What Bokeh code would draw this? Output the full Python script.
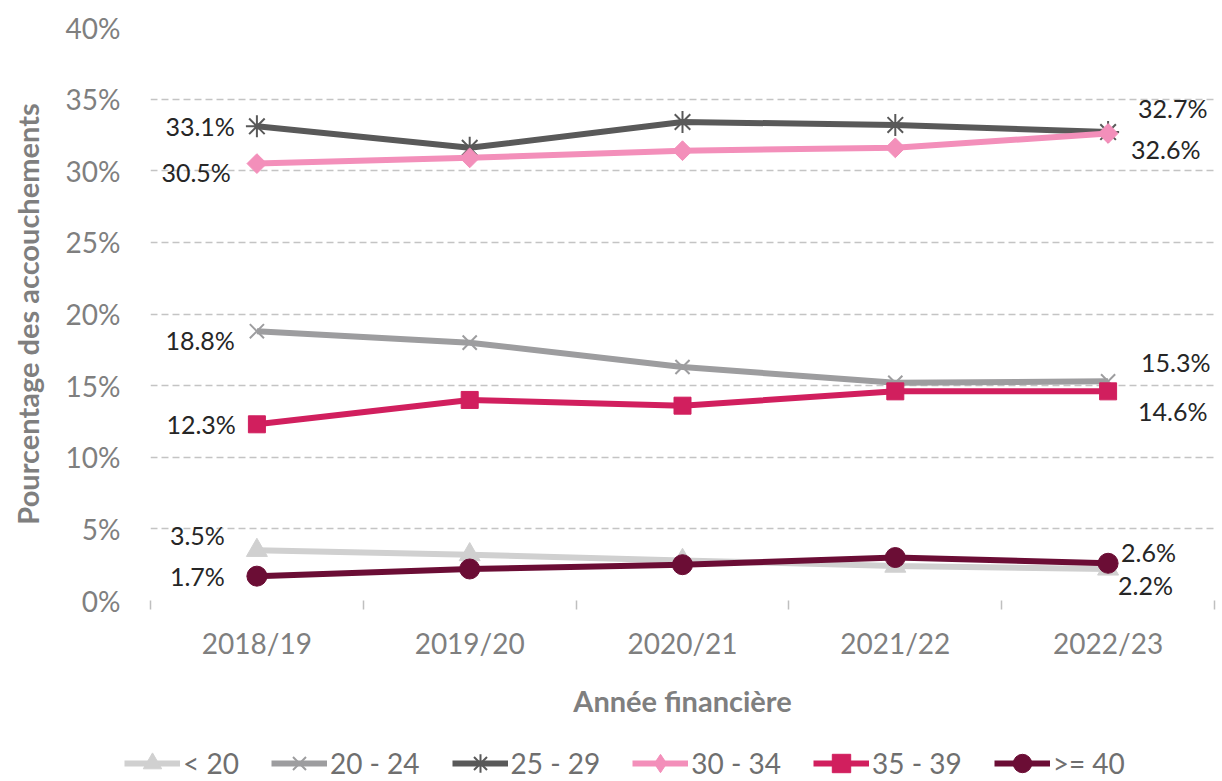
import numpy as np
from bokeh.plotting import figure
from bokeh.layouts import column
from bokeh.models import (Range1d, FixedTicker, PrintfTickFormatter, Legend, LegendItem,
                          ColumnDataSource)
from bokeh.core.properties import value
from bokeh.embed import file_html
from bokeh.resources import INLINE

years = ["2018/19", "2019/20", "2020/21", "2021/22", "2022/23"]
series_names = ["< 20", "20 - 24", "25 - 29", "30 - 34", "35 - 39", ">= 40"]
lt20 = [3.5, 3.2, 2.8, 2.4, 2.2]
a20_24 = [18.8, 18.0, 16.3, 15.2, 15.3]
a25_29 = [33.1, 31.6, 33.4, 33.2, 32.7]
a30_34 = [30.5, 30.9, 31.4, 31.6, 32.6]
a35_39 = [12.3, 14.0, 13.6, 14.6, 14.6]
ge40 = [1.7, 2.2, 2.5, 3.0, 2.6]
y_ticks = [0, 5, 10, 15, 20, 25, 30, 35, 40]

all_series = [lt20, a20_24, a25_29, a30_34, a35_39, ge40]

# styles
colors = ["#d0d0d0", "#9d9d9f", "#595959", "#f38fba", "#d11f5e", "#6b0d35"]
markers = ["triangle", "x", "asterisk", "square", "square", "circle"]
legend_markers = ["triangle", "x", "asterisk", "diamond", "square", "circle"]
msizes = [21, 20, 22, 14, 17, 20]
mangles = [0, 0, 0, np.pi / 4, 0, 0]
# label offsets (screen px) for first and last points
left_off = [(-32, -15), (-22, 9), (-22, 0), (-26, 8), (-21, 0), (-32, 0)]
right_off = [(10, 16), (33, -19), (30, -24), (23, 15), (30, 20), (13, -11)]

FONT = "Lato"
GREY = "#7f7f7f"

xs = np.arange(len(years)) + 0.5

p = figure(frame_width=1064, frame_height=573, output_backend="svg",
           toolbar_location=None, x_range=Range1d(0, len(years)),
           y_range=Range1d(0, 40), min_border_left=150, min_border_top=27,
           min_border_right=4, min_border_bottom=130)
p.outline_line_color = None
p.background_fill_color = "white"

# axes
p.xaxis.ticker = FixedTicker(ticks=list(xs), minor_ticks=list(range(len(years) + 1)))
p.xaxis.major_label_overrides = {float(x): y for x, y in zip(xs, years)}
p.xaxis.major_tick_line_color = None
p.xaxis.minor_tick_line_color = "#bfbfbf"
p.xaxis.minor_tick_line_width = 1.5
p.xaxis.minor_tick_out = 9
p.xaxis.minor_tick_in = 0
p.xaxis.major_tick_out = 0
p.xaxis.axis_line_color = None
p.xaxis.major_label_standoff = 16
p.xaxis.major_label_text_font = FONT
p.xaxis.major_label_text_font_size = "28px"
p.xaxis.major_label_text_color = GREY
p.xaxis.axis_label = "Année financière"
p.xaxis.axis_label_text_font = FONT
p.xaxis.axis_label_text_font_style = "bold"
p.xaxis.axis_label_text_font_size = "29px"
p.xaxis.axis_label_text_color = GREY
p.xaxis.axis_label_standoff = 20

p.yaxis.ticker = FixedTicker(ticks=y_ticks)
p.yaxis.formatter = PrintfTickFormatter(format="%d%%")
p.yaxis.major_tick_line_color = None
p.yaxis.minor_tick_line_color = None
p.yaxis.major_tick_out = 0
p.yaxis.axis_line_color = None
p.yaxis.major_label_standoff = 30
p.yaxis.major_label_text_font = FONT
p.yaxis.major_label_text_font_size = "28px"
p.yaxis.major_label_text_color = GREY
p.yaxis.axis_label = "Pourcentage des accouchements"
p.yaxis.axis_label_text_font = FONT
p.yaxis.axis_label_text_font_style = "bold"
p.yaxis.axis_label_text_font_size = "29px"
p.yaxis.axis_label_text_color = GREY
p.yaxis.axis_label_standoff = 18

p.xgrid.grid_line_color = None
p.ygrid.ticker = FixedTicker(ticks=y_ticks)
p.ygrid.grid_line_color = "#c4c4c4"
p.ygrid.grid_line_width = 1.5
p.ygrid.grid_line_dash = "7 4"

# legend strip below the chart (its glyph copies sit outside its visible range)
pl = figure(width=1218, height=51, output_backend="svg", toolbar_location=None,
            x_range=Range1d(0, 1), y_range=Range1d(-2, -1), x_axis_type=None,
            y_axis_type=None, min_border=0)
pl.outline_line_color = None
pl.xgrid.grid_line_color = None
pl.ygrid.grid_line_color = None

legend_x = -26
if "frame_align" in pl.properties():
    pl.frame_align = False
    p.frame_align = False
    legend_x = 124

items = []
for name, vals, c, m, lm, s, a in zip(series_names, all_series, colors, markers,
                                      legend_markers, msizes, mangles):
    src = ColumnDataSource(dict(x=xs, y=vals))
    p.line("x", "y", source=src, line_color=c, line_width=6)
    l1 = pl.line("x", "y", source=src, line_color=c, line_width=6)
    if m in ("x", "asterisk"):
        p.scatter("x", "y", source=src, marker=m, size=s, line_color=c,
                  line_width=2, angle=a)
        l2 = pl.scatter("x", "y", source=src, marker=lm, size=s, line_color=c,
                        line_width=2)
    else:
        p.scatter("x", "y", source=src, marker=m, size=s, fill_color=c,
                  line_color=c, line_width=1, angle=a)
        l2 = pl.scatter("x", "y", source=src, marker=lm, size=s, fill_color=c,
                        line_color=c, line_width=1)
    items.append(LegendItem(label=name, renderers=[l1, l2]))

# data labels for first and last year
for vals, lo, ro in zip(all_series, left_off, right_off):
    p.text(x=[xs[0]], y=[vals[0]], text=[f"{vals[0]:.1f}%"], x_offset=lo[0], y_offset=lo[1],
           text_align="right", text_baseline="middle", text_font=value(FONT),
           text_font_size="25px", text_color="#262626")
    p.text(x=[xs[-1]], y=[vals[-1]], text=[f"{vals[-1]:.1f}%"], x_offset=ro[0], y_offset=ro[1],
           text_align="left", text_baseline="middle", text_font=value(FONT),
           text_font_size="25px", text_color="#262626")

legend = Legend(items=items, orientation="horizontal", location=(legend_x, -5),
                glyph_width=56, glyph_height=46, label_standoff=3, spacing=32,
                padding=0, margin=0, border_line_color=None, background_fill_alpha=0,
                label_text_font=FONT, label_text_font_size="28px", label_text_color="#6f6f6f",
                label_height=30)
pl.add_layout(legend, "center")

layout = column(p, pl, spacing=0)
open("out.html", "w").write(file_html(layout, INLINE))
